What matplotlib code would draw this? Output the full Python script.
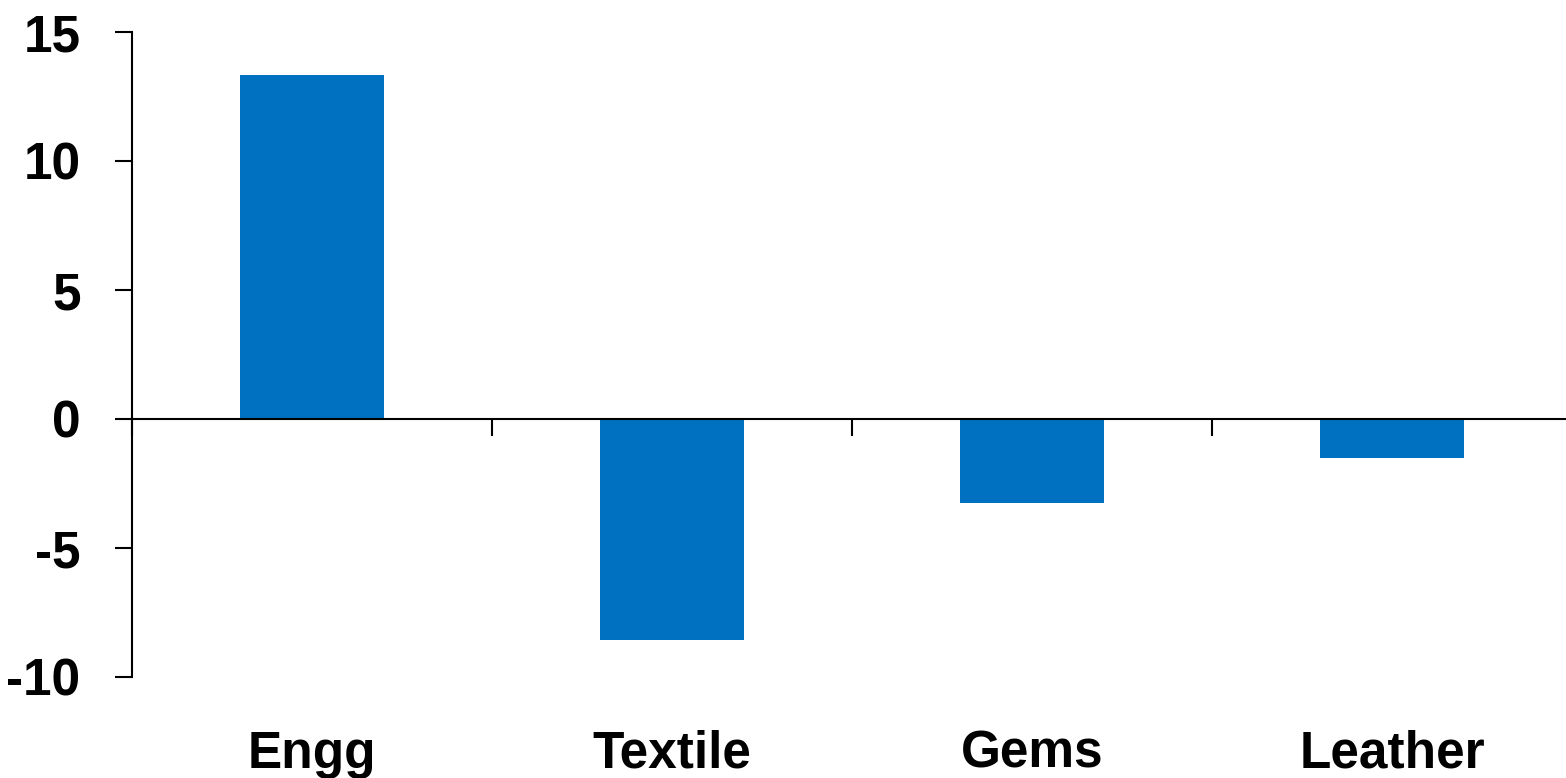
import matplotlib
matplotlib.use("Agg")
import matplotlib.pyplot as plt
import matplotlib.transforms as mtransforms
import numpy as np

categories = ["Engg", "Textile", "Gems", "Leather"]
values = [13.35, -8.55, -3.25, -1.5]
yticks = [-10, -5, 0, 5, 10, 15]

bar_color = "#0070C0"
font_family = ["Liberation Sans Narrow", "Liberation Sans"]
label_size = 37

W, H, DPI = 1566, 778, 100
fig = plt.figure(figsize=(W / DPI, H / DPI), dpi=DPI)

left_px, top_px, bottom_px = 132, 32, 677
cat_px = 360
ax = fig.add_axes([left_px / W, 1 - bottom_px / H,
                   cat_px * len(categories) / W, (bottom_px - top_px) / H])

x = np.arange(len(categories))
ax.bar(x, values, width=0.4, color=bar_color, zorder=2)

ax.set_xlim(-0.5, len(categories) - 0.5)
ax.set_ylim(-10, 15)

# left spine is the value axis, bottom spine sits at zero
for s in ["top", "right"]:
    ax.spines[s].set_visible(False)
ax.spines["bottom"].set_position(("data", 0))
ax.spines["bottom"].set_linewidth(1.5)
ax.spines["bottom"].set_zorder(3)
ax.spines["left"].set_linewidth(1.5)

ax.set_yticks(yticks)
ax.set_yticklabels([str(t) for t in yticks])
ax.tick_params(axis="y", direction="out", length=12, width=1.5, pad=25,
               labelsize=label_size)
for lbl in ax.get_yticklabels():
    lbl.set_fontfamily(font_family)
    lbl.set_fontweight("bold")

# separators between categories on the zero line
ax.set_xticks(np.arange(len(categories)) - 0.5)
ax.set_xticklabels([])
ax.tick_params(axis="x", direction="out", length=12, width=1.5)

# category names along the bottom edge of the figure
trans = mtransforms.blended_transform_factory(ax.transData, fig.transFigure)
for i, name in enumerate(categories):
    ax.text(i, 1 - 768 / H, name, transform=trans,
            ha="center", va="baseline", fontsize=label_size, fontweight="bold",
            family=font_family)

fig.savefig("out.png", dpi=DPI)
